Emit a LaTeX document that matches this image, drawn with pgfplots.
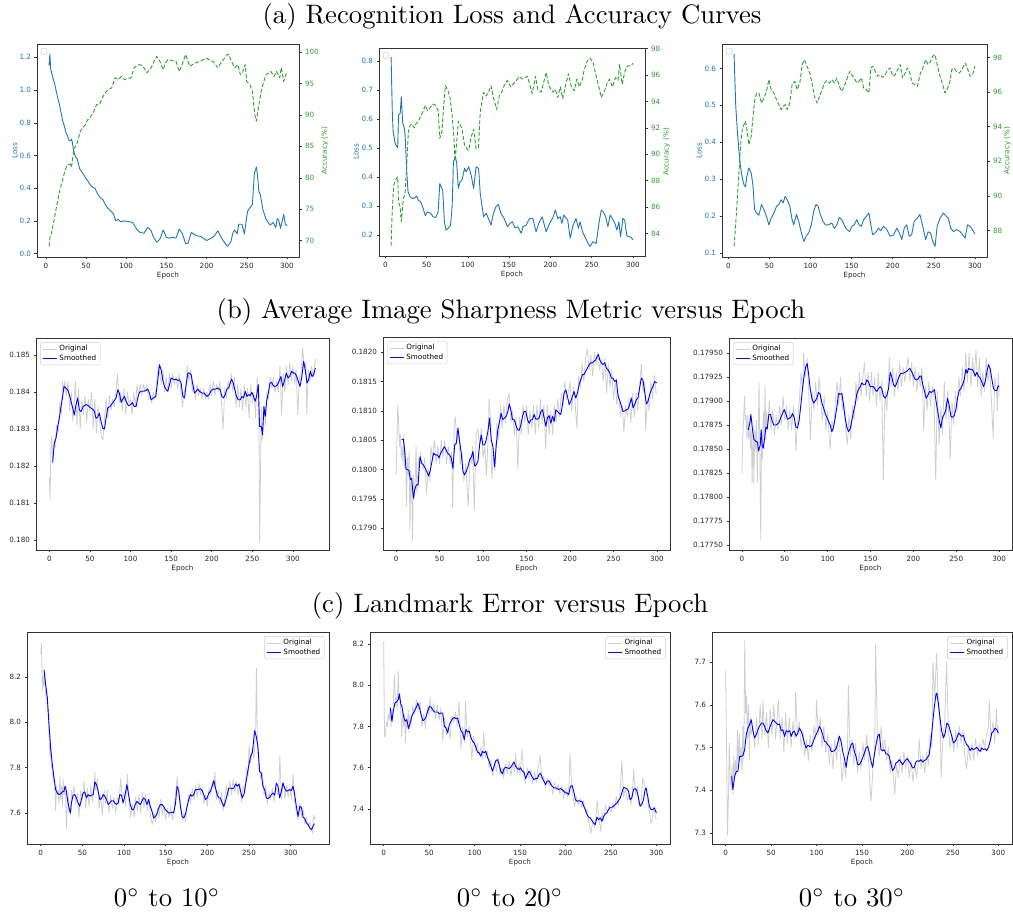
\documentclass[border=0pt]{standalone}
\usepackage{fontspec}
\usepackage{pgfplots}
\pgfplotsset{compat=1.18}
\newfontfamily\dejavu{DejaVu Sans}
\newcommand{\tickfont}{\dejavu\fontsize{7.2}{8.6}\selectfont}
\definecolor{tabblue}{HTML}{1F77B4}
\definecolor{tabgreen}{HTML}{2CA02C}
\pgfplotsset{
  panel/.style={
    scale only axis,
    axis line style={draw=black!80, line width=0.6pt},
    tick align=outside,
    major tick length=2.5pt,
    every tick/.style={draw=black!80, line width=0.5pt},
    tick label style={font=\tickfont, text=black!85},
    label style={font=\tickfont, text=black!85},
    xlabel={Epoch},
    xlabel style={font=\tickfont, text=black!85, at={(axis description cs:0.5,0)}, yshift=-18.5pt, anchor=center},
    xtick={0,50,100,150,200,250,300},
    scaled ticks=false,
    /pgf/number format/assume math mode=true,
    tick pos=left,
    every axis plot/.append style={line join=round},
  },
  lossy/.style={ylabel={Loss}, ylabel style={font=\tickfont, text=tabblue, at={(axis description cs:#1,0.5)}, anchor=center}},
  accy/.style={ylabel={Accuracy (\%)}, ylabel style={font=\tickfont, text=tabgreen, at={(axis description cs:#1,0.5)}, anchor=center}},
  orig/.style={color=black!19, line width=0.8pt},
  smline/.style={color=blue, line width=0.9pt},
  legb/.style={legend style={font=\tickfont, draw=black!20, rounded corners=1.5pt, fill=white, inner xsep=2pt, inner ysep=1pt, at={(0.015,0.98)}, anchor=north west, cells={anchor=west}, row sep=-1.5pt}, legend image code/.code={\draw[##1] (0pt,0pt) -- (14pt,0pt);}},
  legc/.style={legend style={font=\tickfont, draw=black!20, rounded corners=1.5pt, fill=white, inner xsep=2pt, inner ysep=1pt, at={(0.985,0.98)}, anchor=north east, cells={anchor=west}, row sep=-1.5pt}, legend image code/.code={\draw[##1] (0pt,0pt) -- (14pt,0pt);}},
}
\begin{document}
\begin{tikzpicture}[x=1pt,y=1pt]
\path[use as bounding box] (0,0) rectangle (1013,913);
% titles
\node[scale=2.67, transform shape, anchor=base, font=\fontsize{10}{12}\selectfont] at (512pt,889.7pt) {(a) Recognition Loss and Accuracy Curves};
\node[scale=2.67, transform shape, anchor=base, font=\fontsize{10}{12}\selectfont] at (511pt,594.5pt) {(b) Average Image Sharpness Metric versus Epoch};
\node[scale=2.67, transform shape, anchor=base, font=\fontsize{10}{12}\selectfont] at (510pt,300pt) {(c) Landmark Error versus Epoch};
\node[scale=2.67, transform shape, anchor=base, font=\fontsize{10}{12}\selectfont] at (167pt,6.3pt) {$0^\circ$ to $10^\circ$};
\node[scale=2.67, transform shape, anchor=base, font=\fontsize{10}{12}\selectfont] at (510pt,6.3pt) {$0^\circ$ to $20^\circ$};
\node[scale=2.67, transform shape, anchor=base, font=\fontsize{10}{12}\selectfont] at (852pt,6.3pt) {$0^\circ$ to $30^\circ$};

% ===== a1 =====
\begin{axis}[panel, at={(37pt,656pt)}, anchor=south west, width=262pt, height=213pt,
  xmin=-11, xmax=315, ymin=-0.0204, ymax=1.2815, ytick={0,0.2,0.4,0.6,0.8,1.0,1.2},
  yticklabel style={text=tabblue, /pgf/number format/.cd, fixed, fixed zerofill, precision=1},
  lossy=-0.085]
\addplot[tabblue, line width=0.9pt] coordinates {(4,1.15)(5,1.22)(6,1.13)(7,1.11)(9,1.07)(11,1.04)(13,0.99)(15,0.95)(17,0.91)(19,0.86)(21,0.81)(23,0.78)(25,0.74)(27,0.72)(29,0.69)(31,0.69)(32,0.70)(33,0.68)(35,0.62)(37,0.59)(39,0.58)(42,0.52)(46,0.49)(50,0.46)(54,0.43)(57,0.41)(61,0.40)(65,0.36)(68,0.34)(71,0.33)(75,0.29)(80,0.265)(84,0.245)(87,0.20)(90,0.21)(93,0.195)(98,0.20)(104,0.195)(108,0.19)(113,0.15)(117,0.13)(122,0.125)(127,0.16)(131,0.14)(134,0.10)(138,0.07)(142,0.09)(146,0.145)(150,0.10)(154,0.095)(158,0.10)(162,0.095)(166,0.15)(170,0.12)(174,0.06)(177,0.065)(181,0.13)(187,0.11)(193,0.105)(200,0.08)(206,0.095)(210,0.11)(214,0.14)(218,0.10)(222,0.07)(226,0.045)(230,0.07)(233,0.13)(235,0.145)(238,0.12)(240,0.18)(244,0.18)(247,0.12)(251,0.26)(254,0.28)(257,0.30)(259.4,0.49)(262,0.53)(264,0.45)(265,0.38)(267,0.36)(270,0.27)(274,0.21)(279,0.175)(283,0.19)(286,0.16)(288,0.215)(290,0.20)(292,0.155)(296,0.24)(298,0.18)(300,0.17)};
\node[draw=black!25, rounded corners=0.8pt, minimum size=5.7pt, inner sep=0pt, anchor=north west] at ([xshift=4pt,yshift=-4.3pt]rel axis cs:0,1) {};
\end{axis}
\begin{axis}[panel, at={(37pt,656pt)}, anchor=south west, width=262pt, height=213pt,
  xmin=-11, xmax=315, axis x line=none, axis y line*=right, ytick pos=right, xlabel={},
  ymin=67.4, ymax=101.27, ytick={70,75,80,85,90,95,100},
  yticklabel style={text=tabgreen}, accy=1.099]
\addplot[tabgreen, line width=0.9pt, dash pattern=on 4pt off 2pt] coordinates {(4,69.1)(5,70.4)(7,71.2)(9,72.5)(11,73.8)(13,75.2)(15,76.5)(17,77.8)(19,78.8)(21.5,80.0)(24,81.2)(26,81.8)(28,82.1)(30,82.2)(32,81.7)(35,84.7)(37,85.0)(39,85.5)(41,86.5)(43,87.4)(46,88.0)(49,88.4)(52,89.2)(55,89.6)(59,90.3)(63,91.6)(67,91.7)(71,92.9)(75,93.7)(79,94.1)(82,94.3)(86,95.9)(90,95.6)(94,96.1)(98,95.6)(102,95.8)(106,95.9)(110,97.5)(114,97.9)(117,98.0)(121,97.7)(126,96.7)(131,97.5)(135,98.6)(138,99.3)(142,98.5)(146,97.2)(149,98.3)(152,98.8)(158,98.6)(162,98.5)(166,96.9)(170,98.2)(174,99.6)(179,97.7)(185,98.2)(191,98.5)(196,98.8)(200,99.0)(204,98.7)(208,98.5)(214,97.5)(218,98.3)(221,98.8)(227,99.7)(231,98.5)(235,97.5)(239,98.0)(242,96.4)(245,96.8)(248,98.0)(250,95.3)(254,94.8)(257,93.7)(260,90.0)(262,89.0)(265,91.6)(268,93.8)(270,94.8)(274,96.4)(280,96.9)(284,96.1)(287,96.9)(289,96.5)(291,95.9)(293,97.5)(296,95.3)(298,96.2)(300,96.9)};
\end{axis}

% ===== a2 =====
\begin{axis}[panel, at={(379pt,657pt)}, anchor=south west, width=266pt, height=208pt,
  xmin=-7.65, xmax=314.65, ymin=0.1276, ymax=0.846, ytick={0.2,0.3,0.4,0.5,0.6,0.7,0.8},
  yticklabel style={text=tabblue, /pgf/number format/.cd, fixed, fixed zerofill, precision=1},
  lossy=-0.0865]
\addplot[tabblue, line width=0.9pt] coordinates {(7,0.815)(8.5,0.62)(9.5,0.556)(12,0.516)(15,0.501)(16,0.614)(18,0.62)(19.4,0.677)(21,0.59)(23,0.568)(24,0.545)(26,0.418)(27.5,0.35)(30,0.332)(33,0.326)(36,0.329)(38,0.335)(40,0.32)(43,0.315)(46,0.29)(48.5,0.267)(51,0.28)(55,0.275)(58,0.263)(61,0.26)(64,0.28)(66,0.378)(69.5,0.355)(71.6,0.246)(73.6,0.217)(76,0.223)(79,0.234)(81,0.298)(82.5,0.453)(85,0.47)(86.5,0.447)(88.5,0.361)(90.5,0.384)(93,0.39)(96,0.43)(98,0.418)(101,0.436)(104,0.407)(107,0.361)(110,0.436)(113,0.43)(115,0.344)(119,0.263)(122,0.275)(125,0.257)(128,0.234)(131,0.275)(134,0.298)(137,0.306)(140,0.275)(144,0.257)(148,0.229)(151,0.24)(154,0.246)(157,0.225)(160.5,0.229)(164.6,0.206)(167,0.229)(170.6,0.234)(174.7,0.257)(178.7,0.257)(182.7,0.211)(186,0.24)(190,0.263)(194.9,0.211)(199,0.24)(203,0.26)(206,0.286)(209,0.257)(212,0.263)(214,0.24)(216,0.269)(221,0.252)(224,0.189)(227,0.229)(231,0.257)(234,0.223)(236,0.246)(239,0.211)(242.6,0.189)(245,0.175)(248,0.16)(251.5,0.177)(255.5,0.171)(258.8,0.24)(261.6,0.286)(264,0.28)(267,0.263)(269.7,0.229)(272.5,0.269)(275,0.257)(277.7,0.244)(280.6,0.217)(283,0.246)(285,0.194)(287.9,0.257)(290,0.252)(292.7,0.197)(296,0.194)(298,0.191)(300,0.183)};
\node[draw=black!25, rounded corners=0.8pt, minimum size=5.7pt, inner sep=0pt, anchor=north west] at ([xshift=4pt,yshift=-4.3pt]rel axis cs:0,1) {};
\end{axis}
\begin{axis}[panel, at={(379pt,657pt)}, anchor=south west, width=266pt, height=208pt,
  xmin=-7.65, xmax=314.65, axis x line=none, axis y line*=right, ytick pos=right, xlabel={},
  ymin=82.29, ymax=98.05, ytick={84,86,88,90,92,94,96,98},
  yticklabel style={text=tabgreen}, accy=1.0816]
\addplot[tabgreen, line width=0.9pt, dash pattern=on 4pt off 2pt] coordinates {(7,83.07)(8,85.1)(10,87.6)(12,88.0)(15,88.3)(16,86.4)(18,86.0)(19.4,84.9)(21.8,86.6)(24,87.1)(25.9,89.15)(27.9,91.7)(30,92.2)(32,92.3)(35,92.0)(37,92.3)(40,92.5)(43,92.9)(46,93.3)(48.5,93.7)(51,93.3)(54,93.5)(58,93.8)(61,93.7)(64,93.3)(66,91.2)(68.5,91.7)(70.8,93.7)(72.8,95.2)(75.6,94.9)(78.4,94.3)(81,92.9)(83,91.4)(84.5,89.5)(86.5,90.9)(88.5,92.5)(91,92.2)(93,91.9)(96,90.7)(99,90.4)(101,90.3)(104,91.3)(107,91.9)(110,90.4)(112.8,90.5)(115,93.2)(119,94.7)(122,94.4)(125,94.7)(128,95.2)(131,94.3)(135,93.4)(138,94.4)(141,94.7)(144,95.2)(148,95.6)(152,95.1)(156,95.4)(159,95.6)(162.5,95.9)(165.7,95.7)(169,95.8)(172,95.9)(175,95.3)(177.9,94.6)(182,95.9)(184.7,94.9)(188.8,94.7)(195,96.2)(198,95.2)(203,94.7)(206,94.9)(209,94.3)(212,95.1)(215,94.2)(218.3,95.2)(222,96.1)(225,95.2)(229,94.8)(232,95.7)(235,95.1)(238.5,95.6)(241,96.4)(245,97.1)(248,97.3)(252,96.9)(255.5,95.9)(258.8,95.1)(261.6,94.3)(265.6,94.8)(268.8,95.4)(271.7,95.7)(275,95.1)(279,95.8)(282,95.6)(283.8,96.8)(287,95.3)(290,96.2)(292,96.6)(295,96.7)(298,96.7)(300,96.9)};
\end{axis}

% ===== a3 =====
\begin{axis}[panel, at={(722pt,656pt)}, anchor=south west, width=265pt, height=213pt,
  xmin=-7.65, xmax=314.65, ymin=0.090, ymax=0.666, ytick={0.1,0.2,0.3,0.4,0.5,0.6},
  yticklabel style={text=tabblue, /pgf/number format/.cd, fixed, fixed zerofill, precision=1},
  lossy=-0.087]
\addplot[tabblue, line width=0.9pt] coordinates {(7,0.639)(9,0.502)(11,0.430)(13,0.376)(15,0.331)(17,0.304)(19,0.286)(21,0.279)(22.2,0.304)(25,0.331)(27.9,0.317)(29.9,0.286)(32,0.218)(34.4,0.209)(37.2,0.203)(40.4,0.232)(43.3,0.218)(46.5,0.2)(49.3,0.177)(52.2,0.195)(55.4,0.209)(58.6,0.227)(61.5,0.232)(64.3,0.245)(66.7,0.236)(69.1,0.254)(71.6,0.245)(74.8,0.227)(77.6,0.191)(79.6,0.177)(82.9,0.205)(85.7,0.186)(88.5,0.159)(91.8,0.132)(94.6,0.146)(97.8,0.155)(101,0.177)(103.9,0.214)(106.7,0.232)(109.2,0.227)(112,0.205)(115.2,0.186)(118,0.177)(122,0.177)(126,0.182)(129,0.167)(132,0.177)(135,0.197)(138,0.191)(141,0.177)(144,0.164)(147.6,0.159)(150.4,0.173)(153,0.177)(156.5,0.191)(159,0.177)(161.7,0.173)(164.6,0.191)(168,0.2)(171,0.209)(173.4,0.177)(175.5,0.150)(178.7,0.155)(182.7,0.168)(185.6,0.161)(188.8,0.173)(192.9,0.164)(197,0.146)(201,0.150)(205,0.168)(208,0.155)(211,0.137)(214,0.168)(217,0.177)(220,0.146)(223,0.150)(226,0.186)(230,0.195)(233,0.205)(236.5,0.173)(240,0.137)(243,0.158)(246,0.155)(248.6,0.132)(251.5,0.119)(254,0.173)(257.5,0.195)(261.6,0.209)(265,0.2)(267.7,0.195)(270.5,0.168)(273.7,0.159)(277.7,0.164)(281.8,0.159)(285,0.150)(288,0.141)(291,0.177)(294,0.173)(297,0.164)(300,0.152)};
\node[draw=black!25, rounded corners=0.8pt, minimum size=5.7pt, inner sep=0pt, anchor=north west] at ([xshift=4pt,yshift=-4.3pt]rel axis cs:0,1) {};
\end{axis}
\begin{axis}[panel, at={(722pt,656pt)}, anchor=south west, width=265pt, height=213pt,
  xmin=-7.65, xmax=314.65, axis x line=none, axis y line*=right, ytick pos=right, xlabel={},
  ymin=86.46, ymax=98.79, ytick={88,90,92,94,96,98},
  yticklabel style={text=tabgreen}, accy=1.077]
\addplot[tabgreen, line width=0.9pt, dash pattern=on 4pt off 2pt] coordinates {(7,87.07)(9,88.33)(11,89.87)(13,91.4)(15,92.96)(17,93.83)(19,94.12)(21,94.31)(23,93.73)(25,92.96)(27.9,93.44)(29.9,94.5)(32,95.47)(34.4,95.95)(37.2,95.95)(40.4,95.37)(43.3,95.66)(46.5,96.05)(49.3,96.73)(52.2,96.15)(55.4,95.95)(58.6,95.57)(61.5,95.28)(64.3,94.99)(66.7,95.18)(69.1,95.28)(71.6,94.99)(74.8,95.37)(77.6,96.44)(80.9,96.63)(83.7,96.15)(87,96.53)(89.8,97.6)(92.6,97.88)(95.8,97.5)(99,97.11)(101.9,96.53)(104.7,95.76)(108,95.37)(111,95.76)(114,96.15)(117,96.53)(120,96.67)(123,96.53)(126,96.73)(129,96.53)(132,96.82)(135,96.34)(138,96.05)(141,96.34)(144,96.73)(147.6,97.2)(150.4,97.0)(153,96.82)(156.5,96.53)(159,96.63)(161.7,96.82)(164.6,96.24)(168,96.15)(171,95.95)(173.4,97.4)(175.8,97.5)(178.7,97.2)(181.5,96.92)(184.8,97.0)(188,96.86)(190.8,97.0)(193.6,97.3)(197,97.4)(200,96.92)(203,97.0)(205.8,97.3)(209,97.6)(212,96.82)(215,97.1)(218,97.4)(221,97.1)(223.6,96.53)(227,96.44)(230,96.34)(233,97.0)(236.5,97.4)(240,97.88)(243,97.6)(246,97.79)(248.6,98.08)(251.5,98.17)(254,97.6)(257.5,96.92)(260.8,96.44)(263.6,95.95)(266.8,96.24)(269.7,96.63)(271.7,97.3)(274.5,97.4)(277.7,97.2)(281,97.11)(284,97.3)(288,97.69)(290.7,97.4)(294,96.92)(297,97.0)(300,97.5)};
\end{axis}

% ===== b1 =====
\begin{axis}[panel, legb, at={(36pt,363pt)}, anchor=south west, width=293pt, height=212pt,
  xmin=-16.4, xmax=344.4, ymin=0.17973, ymax=0.18546, ytick={0.180,0.181,0.182,0.183,0.184,0.185},
  yticklabel style={/pgf/number format/.cd, fixed, fixed zerofill, precision=3}]
\addplot[orig] coordinates {(0,0.18170)(1,0.18110)(2,0.18260)(3,0.18280)(4,0.18220)(6,0.18270)(7,0.18250)(9,0.18310)(11,0.18290)(13,0.18370)(15,0.18340)(16,0.18430)(18,0.18400)(19,0.18430)(21,0.18390)(23,0.18430)(25,0.18350)(27,0.18400)(29,0.18320)(31,0.18380)(32,0.18430)(34,0.18310)(36,0.18410)(38,0.18300)(40,0.18380)(42,0.18340)(44,0.18390)(46,0.18320)(48,0.18380)(50,0.18350)(52,0.18400)(54,0.18300)(56,0.18380)(58,0.18290)(60,0.18360)(62,0.18320)(64,0.18280)(66,0.18270)(68,0.18330)(70,0.18380)(72,0.18330)(74,0.18390)(76,0.18350)(78,0.18380)(80,0.18360)(82,0.18400)(84,0.18450)(86,0.18370)(88,0.18400)(90,0.18350)(92,0.18410)(94,0.18340)(96,0.18400)(98,0.18370)(100,0.18380)(102,0.18340)(104,0.18400)(106,0.18360)(108,0.18420)(110,0.18390)(112,0.18420)(114,0.18390)(116,0.18420)(118,0.18400)(120,0.18420)(122,0.18380)(124,0.18390)(126,0.18370)(128,0.18400)(130,0.18380)(132,0.18420)(134,0.18470)(136,0.18450)(138,0.18420)(140,0.18460)(142,0.18400)(144,0.18440)(146,0.18400)(148,0.18450)(150,0.18410)(152,0.18450)(154,0.18420)(156,0.18440)(158,0.18410)(160,0.18450)(162,0.18400)(164,0.18360)(166,0.18400)(168,0.18410)(170,0.18470)(172,0.18430)(174,0.18460)(176,0.18400)(178,0.18420)(180,0.18380)(182,0.18420)(184,0.18390)(186,0.18410)(188,0.18380)(190,0.18410)(192,0.18380)(194,0.18400)(196,0.18380)(198,0.18420)(200,0.18390)(202,0.18430)(204,0.18390)(206,0.18420)(208,0.18400)(210,0.18430)(212,0.18370)(214,0.18300)(216,0.18410)(218,0.18380)(220,0.18430)(222,0.18410)(224,0.18450)(226,0.18400)(228,0.18440)(230,0.18360)(232,0.18420)(234,0.18360)(236,0.18410)(238,0.18350)(240,0.18420)(242,0.18360)(244,0.18410)(246,0.18330)(248,0.18420)(250,0.18370)(252,0.18400)(254,0.18330)(256,0.18440)(258,0.18380)(259,0.17995)(261,0.18360)(262,0.18270)(264,0.18360)(266,0.18310)(268,0.18400)(270,0.18380)(272,0.18440)(274,0.18410)(276,0.18440)(278,0.18400)(280,0.18430)(282,0.18400)(284,0.18470)(286,0.18340)(288,0.18450)(290,0.18400)(292,0.18470)(294,0.18420)(296,0.18480)(298,0.18430)(300,0.18470)(302,0.18420)(304,0.18460)(306,0.18340)(308,0.18440)(310,0.18450)(312,0.18520)(314,0.18460)(316,0.18480)(317,0.18340)(319,0.18460)(321,0.18430)(323,0.18470)(325,0.18440)(327,0.18480)(328,0.18490)};
\addlegendentry{Original}
\addplot[smline] coordinates {(4.1,0.18209)(6.2,0.18262)(8.2,0.18275)(10.3,0.18307)(12.3,0.18329)(14.4,0.18361)(16.4,0.18388)(18.1,0.18415)(20.1,0.18411)(22.6,0.18406)(24.7,0.18393)(26.7,0.18375)(28.8,0.18357)(30.8,0.18338)(32.9,0.18366)(34.9,0.18384)(37,0.18352)(39,0.18347)(41.9,0.18361)(45.2,0.18366)(48.1,0.18363)(51,0.18357)(53.4,0.18354)(55.5,0.18347)(57.5,0.18329)(59.6,0.18332)(61.7,0.18343)(63.7,0.18320)(65.8,0.18302)(67.8,0.18300)(69.9,0.18329)(71.9,0.18357)(74.8,0.18361)(77.7,0.18370)(80.1,0.18377)(82.2,0.18384)(84.3,0.18406)(86.3,0.18397)(88.4,0.18372)(90.4,0.18381)(92.5,0.18388)(94.5,0.18375)(97.4,0.18363)(100.3,0.18366)(102.3,0.18372)(104.4,0.18361)(106.9,0.18361)(108.9,0.18384)(111,0.18399)(113,0.18402)(115.9,0.18402)(118.8,0.18404)(121.2,0.18408)(123.3,0.18397)(125.4,0.18379)(128.2,0.18384)(131.1,0.18388)(133.6,0.18433)(135.6,0.18474)(137.7,0.18460)(139.7,0.18433)(141.8,0.18415)(143.9,0.18406)(145.9,0.18402)(148,0.18420)(150,0.18438)(152.1,0.18435)(154.1,0.18433)(156.2,0.18435)(158.2,0.18431)(160.3,0.18433)(162.3,0.18424)(164.4,0.18388)(166.5,0.18384)(168.5,0.18420)(170.6,0.18451)(172.6,0.18451)(174.7,0.18447)(176.7,0.18420)(178.8,0.18397)(180.8,0.18402)(182.9,0.18408)(185,0.18402)(187.8,0.18397)(190.7,0.18397)(194,0.18388)(196.9,0.18393)(199.3,0.18404)(202.2,0.18408)(205.1,0.18408)(207.6,0.18411)(210.4,0.18406)(212.5,0.18388)(214.5,0.18384)(216.6,0.18393)(218.7,0.18408)(220.7,0.18411)(222.8,0.18424)(224.4,0.18435)(226.5,0.18424)(228.5,0.18406)(230.6,0.18388)(232.6,0.18379)(235.1,0.18379)(237.2,0.18388)(239.2,0.18384)(241.3,0.18402)(243.3,0.18388)(245.4,0.18393)(247.4,0.18390)(249.5,0.18399)(251.5,0.18388)(253.6,0.18375)(255.6,0.18393)(257.3,0.18420)(258.9,0.18307)(261,0.18307)(262.6,0.18284)(264.3,0.18361)(265.9,0.18334)(267.6,0.18375)(269.6,0.18397)(271.7,0.18424)(273.7,0.18426)(275.8,0.18417)(277.8,0.18415)(280.3,0.18417)(282.8,0.18429)(285.2,0.18442)(287.3,0.18415)(289.4,0.18429)(291.8,0.18451)(293.9,0.18438)(295.9,0.18442)(298.4,0.18456)(300.4,0.18451)(302.5,0.18451)(304.6,0.18442)(306.6,0.18429)(308.7,0.18415)(310.7,0.18438)(313.2,0.18483)(315.2,0.18460)(317.3,0.18424)(319.3,0.18433)(321.4,0.18456)(323.5,0.18442)(325.5,0.18447)(327.6,0.18465)};
\addlegendentry{Smoothed}
\end{axis}

% ===== b2 =====
\begin{axis}[panel, legb, at={(383pt,363pt)}, anchor=south west, width=287pt, height=213pt,
  xmin=-15, xmax=315, ymin=0.17863, ymax=0.18226, ytick={0.1790,0.1795,0.1800,0.1805,0.1810,0.1815,0.1820},
  yticklabel style={/pgf/number format/.cd, fixed, fixed zerofill, precision=4}]
\addplot[orig] coordinates {(0,0.17990)(1,0.18050)(2,0.18110)(3,0.18080)(4,0.18040)(5,0.18060)(6,0.18020)(7,0.18040)(8,0.18010)(9,0.18060)(10,0.18000)(11,0.18030)(12,0.17938)(13,0.18020)(14,0.17990)(15,0.18030)(16,0.17897)(17,0.18000)(18,0.17960)(19,0.17878)(20,0.17990)(21,0.17950)(22,0.17980)(23,0.18040)(24,0.17960)(26,0.18020)(27,0.18000)(28,0.18030)(29,0.18010)(31,0.18000)(33,0.18020)(35,0.17960)(37,0.18000)(39,0.17980)(40,0.18040)(42,0.18020)(44,0.18050)(46,0.18010)(48,0.18040)(50,0.18010)(52,0.18050)(54,0.18020)(56,0.18050)(58,0.18010)(60,0.18040)(62,0.18010)(64,0.18030)(65,0.17935)(67,0.18080)(68,0.18090)(70,0.18050)(72,0.18060)(74,0.18010)(76,0.18030)(78,0.17980)(80,0.18010)(82,0.17960)(83,0.17938)(85,0.18020)(87,0.18010)(88,0.18040)(90,0.17930)(92,0.18060)(94,0.18070)(96,0.18040)(98,0.18070)(100,0.18020)(102,0.18040)(104,0.17990)(106,0.18060)(107,0.18120)(109,0.18080)(110,0.17985)(112,0.18020)(114,0.18000)(116,0.18080)(118,0.18050)(120,0.18110)(122,0.18070)(124,0.18110)(126,0.18080)(128,0.18120)(130,0.18130)(132,0.18080)(134,0.18100)(136,0.18060)(138,0.18090)(140,0.18000)(142,0.18090)(144,0.18060)(146,0.18110)(148,0.18080)(150,0.18110)(152,0.18060)(154,0.18100)(156,0.18070)(158,0.18110)(160,0.18060)(162,0.18110)(164,0.18070)(166,0.18120)(168,0.18080)(170,0.18110)(172,0.18035)(174,0.18110)(176,0.18060)(178,0.18100)(180,0.18060)(182,0.18110)(184,0.18080)(186,0.18120)(188,0.18090)(190,0.18130)(192,0.18110)(194,0.18150)(196,0.18120)(198,0.18130)(200,0.18150)(202,0.18100)(204,0.18140)(206,0.18110)(208,0.18070)(210,0.18160)(212,0.18140)(214,0.18180)(216,0.18150)(218,0.18190)(220,0.18205)(222,0.18170)(224,0.18195)(226,0.18160)(228,0.18200)(230,0.18180)(232,0.18200)(234,0.18170)(236,0.18190)(238,0.18150)(240,0.18190)(242,0.18130)(244,0.18180)(246,0.18140)(248,0.18170)(250,0.18120)(252,0.18150)(254,0.18110)(256,0.18130)(258,0.18090)(260,0.18110)(262,0.18065)(264,0.18110)(266,0.18090)(268,0.18120)(270,0.18080)(272,0.18130)(274,0.18090)(276,0.18130)(278,0.18100)(280,0.18140)(282,0.18180)(284,0.18130)(286,0.18150)(287,0.18068)(289,0.18120)(291,0.18100)(293,0.18150)(295,0.18120)(297,0.18160)(299,0.18130)(300,0.18130)};
\addlegendentry{Original}
\addplot[smline] coordinates {(6.5,0.18051)(8.4,0.18052)(9.6,0.18037)(11.5,0.18001)(13.4,0.18000)(14.9,0.17998)(16.5,0.17983)(18,0.17985)(19.9,0.17951)(21.4,0.17965)(23.3,0.17974)(25.3,0.17974)(27.6,0.18022)(29.5,0.18011)(31.4,0.18008)(33.7,0.18002)(36,0.17994)(37.5,0.17989)(39.4,0.17999)(41.3,0.18014)(43.2,0.18028)(45.2,0.18025)(47.5,0.18025)(49.4,0.18020)(51.3,0.18028)(53.6,0.18034)(55.5,0.18039)(57.4,0.18034)(59.3,0.18028)(61.6,0.18025)(63.5,0.18020)(65.4,0.18002)(67.4,0.18042)(69.3,0.18045)(71.2,0.18071)(73.1,0.18048)(75,0.18028)(76.9,0.17997)(78.8,0.17991)(80.7,0.17997)(82.7,0.18005)(84.6,0.18017)(86.5,0.18021)(88.4,0.18031)(90.3,0.18006)(92.2,0.18008)(94.1,0.18014)(96.1,0.18042)(98,0.18059)(99.9,0.18042)(101.8,0.18042)(103.7,0.18051)(105.6,0.18065)(107.5,0.18088)(109.5,0.18051)(111.4,0.18039)(113.3,0.18005)(115.2,0.18042)(117.1,0.18068)(119,0.18082)(120.9,0.18096)(122.8,0.18085)(124.8,0.18088)(126.7,0.18091)(128.6,0.18099)(130.1,0.18112)(132,0.18102)(133.9,0.18085)(135.9,0.18085)(137.8,0.18076)(139.7,0.18068)(141.6,0.18067)(143.5,0.18076)(145.4,0.18091)(147.3,0.18099)(149.3,0.18099)(151.2,0.18085)(153.1,0.18079)(155,0.18085)(156.9,0.18085)(158.8,0.18094)(160.7,0.18086)(162.6,0.18086)(164.6,0.18088)(166.5,0.18099)(168.4,0.18102)(170.3,0.18088)(172.2,0.18074)(174.1,0.18088)(176,0.18092)(178,0.18079)(179.9,0.18091)(181.8,0.18082)(183.7,0.18102)(185.6,0.18099)(187.5,0.18096)(189.4,0.18094)(191.4,0.18111)(193.3,0.18131)(195.2,0.18136)(197.1,0.18125)(199,0.18111)(200.9,0.18116)(202.8,0.18125)(204.7,0.18133)(206.7,0.18122)(208.6,0.18131)(210.5,0.18145)(212.4,0.18153)(214.3,0.18162)(216.2,0.18162)(218.1,0.18168)(220.1,0.18173)(222,0.18179)(223.9,0.18182)(225.8,0.18182)(227.7,0.18185)(229.6,0.18187)(231.5,0.18194)(232.7,0.18196)(234.2,0.18187)(236.1,0.18182)(238,0.18179)(240,0.18182)(241.9,0.18173)(243.8,0.18170)(245.7,0.18165)(247.6,0.18156)(249.5,0.18156)(251.4,0.18150)(253.3,0.18153)(255.3,0.18125)(257.2,0.18118)(259.1,0.18108)(261,0.18099)(262.9,0.18100)(264.8,0.18102)(266.7,0.18103)(268.7,0.18111)(270.6,0.18122)(272.5,0.18105)(274.4,0.18111)(276.3,0.18119)(278.2,0.18122)(280.1,0.18139)(282,0.18156)(284,0.18152)(285.9,0.18133)(287.8,0.18112)(289.7,0.18116)(291.6,0.18128)(293.5,0.18136)(295.4,0.18142)(297.4,0.18150)(299.3,0.18148)(300,0.18148)};
\addlegendentry{Smoothed}
\end{axis}

% ===== b3 =====
\begin{axis}[panel, legb, at={(729pt,363pt)}, anchor=south west, width=283pt, height=212pt,
  xmin=-15, xmax=315, ymin=0.177448, ymax=0.179657, ytick={0.1775,0.17775,0.178,0.17825,0.1785,0.17875,0.179,0.17925,0.1795},
  yticklabel style={/pgf/number format/.cd, fixed, fixed zerofill, precision=5}]
\addplot[orig] coordinates {(0,0.17825)(1,0.17860)(2,0.17880)(3,0.17905)(4,0.17880)(5,0.17885)(6,0.17860)(7,0.17885)(8,0.17860)(9,0.17880)(10,0.17850)(11,0.17870)(12,0.17815)(13,0.17880)(14,0.17815)(15,0.17870)(16,0.17850)(17,0.17880)(18,0.17815)(19,0.17860)(20,0.17919)(21,0.17850)(22,0.17755)(23,0.17870)(24,0.17840)(25,0.17890)(26,0.17850)(27,0.17917)(28,0.17860)(29,0.17890)(30,0.17870)(32,0.17900)(34,0.17870)(36,0.17890)(38,0.17865)(40,0.17885)(42,0.17870)(44,0.17895)(46,0.17875)(48,0.17905)(50,0.17880)(52,0.17895)(54,0.17870)(56,0.17890)(58,0.17870)(60,0.17895)(62,0.17875)(63,0.17848)(65,0.17880)(67,0.17900)(69,0.17930)(71,0.17910)(72,0.17950)(74,0.17925)(76,0.17945)(78,0.17910)(80,0.17860)(82,0.17910)(84,0.17890)(86,0.17920)(88,0.17895)(90,0.17925)(92,0.17900)(94,0.17880)(96,0.17905)(98,0.17870)(100,0.17890)(102,0.17860)(103,0.17850)(105,0.17880)(107,0.17870)(109,0.17900)(111,0.17920)(113,0.17895)(115,0.17925)(117,0.17890)(119,0.17900)(121,0.17870)(123,0.17855)(125,0.17885)(127,0.17860)(129,0.17895)(131,0.17880)(133,0.17920)(135,0.17900)(137,0.17930)(139,0.17905)(141,0.17925)(143,0.17940)(145,0.17905)(147,0.17930)(149,0.17900)(151,0.17930)(153,0.17905)(155,0.17925)(157,0.17895)(159,0.17930)(161,0.17900)(163,0.17920)(165,0.17818)(167,0.17910)(169,0.17890)(171,0.17925)(172,0.17945)(174,0.17915)(176,0.17935)(178,0.17905)(180,0.17930)(182,0.17910)(184,0.17940)(186,0.17915)(188,0.17935)(190,0.17920)(192,0.17935)(194,0.17945)(196,0.17920)(198,0.17940)(200,0.17915)(202,0.17935)(204,0.17910)(206,0.17930)(208,0.17915)(210,0.17935)(212,0.17870)(214,0.17915)(216,0.17890)(218,0.17920)(220,0.17895)(222,0.17915)(224,0.17905)(226,0.17818)(228,0.17910)(230,0.17855)(232,0.17895)(234,0.17865)(236,0.17920)(238,0.17880)(240,0.17910)(242,0.17870)(243,0.17840)(245,0.17900)(247,0.17875)(249,0.17910)(251,0.17890)(253,0.17925)(255,0.17905)(257,0.17935)(259,0.17910)(261,0.17950)(263,0.17920)(265,0.17950)(267,0.17915)(269,0.17945)(271,0.17925)(273,0.17953)(275,0.17915)(277,0.17945)(279,0.17905)(281,0.17930)(283,0.17910)(285,0.17945)(287,0.17920)(289,0.17935)(291,0.17900)(293,0.17862)(295,0.17925)(297,0.17910)(298,0.17890)(299,0.17930)(300,0.17905)};
\addlegendentry{Original}
\addplot[smline] coordinates {(7.4,0.17870)(9.3,0.17877)(10.5,0.17886)(12.4,0.17870)(14,0.17860)(16.3,0.17858)(18.3,0.17857)(19.4,0.17848)(21.4,0.17854)(22.5,0.17870)(23.7,0.17853)(24.9,0.17851)(26.8,0.17863)(28,0.17873)(29.5,0.17871)(31.5,0.17886)(33.4,0.17886)(35.4,0.17879)(37.3,0.17875)(39.6,0.17875)(41.6,0.17876)(43.5,0.17878)(45.5,0.17883)(47.4,0.17887)(49.4,0.17891)(51.3,0.17887)(53.2,0.17881)(55.2,0.17882)(57.1,0.17883)(59.1,0.17887)(61,0.17883)(63,0.17873)(64.9,0.17872)(66.8,0.17880)(68.8,0.17896)(70.7,0.17913)(72.7,0.17927)(74.6,0.17936)(76.2,0.17939)(77.7,0.17929)(79.7,0.17913)(81.6,0.17903)(83.6,0.17898)(85.5,0.17900)(87.4,0.17903)(89.4,0.17909)(91.3,0.17907)(93.3,0.17898)(95.2,0.17893)(97.2,0.17887)(99.1,0.17883)(101,0.17879)(103,0.17875)(104.9,0.17868)(106.9,0.17873)(108.8,0.17882)(110.8,0.17894)(112.7,0.17908)(114.7,0.17907)(116.6,0.17908)(118.5,0.17896)(120.5,0.17882)(122.4,0.17873)(124.4,0.17868)(126.3,0.17871)(128.3,0.17880)(130.2,0.17889)(132.1,0.17896)(134.1,0.17908)(136,0.17912)(138,0.17915)(139.9,0.17919)(141.9,0.17917)(143.8,0.17917)(145.7,0.17922)(147.7,0.17920)(149.6,0.17915)(151.6,0.17915)(153.5,0.17915)(155.5,0.17912)(157.4,0.17910)(159.3,0.17913)(161.3,0.17915)(163.2,0.17913)(165.2,0.17905)(167.1,0.17903)(169.1,0.17906)(171,0.17913)(173,0.17930)(174.9,0.17925)(176.8,0.17917)(178.8,0.17915)(180.7,0.17919)(182.7,0.17924)(184.6,0.17928)(186.6,0.17929)(188.5,0.17929)(190.4,0.17930)(192.4,0.17931)(194.3,0.17933)(195.9,0.17934)(197.8,0.17931)(199.8,0.17927)(201.7,0.17923)(203.7,0.17922)(205.6,0.17923)(207.5,0.17926)(209.1,0.17926)(211,0.17917)(213,0.17910)(214.9,0.17903)(216.9,0.17906)(218.8,0.17910)(220.8,0.17909)(222.7,0.17910)(224.6,0.17912)(226.2,0.17901)(228.1,0.17891)(230.1,0.17880)(232,0.17872)(234,0.17883)(235.9,0.17886)(237.9,0.17891)(239.8,0.17903)(241.7,0.17896)(243.7,0.17884)(245.6,0.17883)(247.6,0.17885)(249.5,0.17891)(251.5,0.17903)(253.4,0.17911)(255.3,0.17913)(257.3,0.17917)(259.2,0.17922)(261.2,0.17933)(262.7,0.17929)(264.3,0.17934)(266.2,0.17933)(268.2,0.17933)(270.1,0.17931)(272.1,0.17926)(274,0.17930)(275.9,0.17926)(277.9,0.17924)(279.8,0.17920)(281.8,0.17915)(283.7,0.17920)(285.6,0.17930)(287.6,0.17938)(289.5,0.17934)(291.5,0.17923)(293.4,0.17913)(295.4,0.17911)(297.3,0.17911)(298.9,0.17916)(300,0.17915)};
\addlegendentry{Smoothed}
\end{axis}

% ===== c1 =====
\begin{axis}[panel, legc, at={(27pt,69pt)}, anchor=south west, width=302pt, height=212pt,
  xmin=-16.4, xmax=346, ymin=7.463, ymax=8.3985, ytick={7.6,7.8,8.0,8.2},
  yticklabel style={/pgf/number format/.cd, fixed, fixed zerofill, precision=1}]
\addplot[orig] coordinates {(0,8.30)(1,8.35)(2,8.14)(3,8.21)(4,8.16)(5,8.22)(6,8.12)(7,8.15)(8,8.05)(9,8.06)(10,7.95)(11,7.85)(12,7.90)(13,7.80)(14,7.82)(15,7.74)(16,7.77)(17,7.71)(18,7.61)(19,7.72)(20,7.68)(21,7.70)(22,7.64)(23,7.76)(24,7.66)(25,7.72)(26,7.63)(27,7.75)(28,7.68)(29,7.72)(30,7.66)(31,7.53)(32,7.64)(33,7.69)(34,7.60)(35,7.62)(36,7.59)(37,7.70)(38,7.66)(40,7.72)(42,7.64)(44,7.69)(46,7.58)(48,7.70)(50,7.66)(52,7.74)(54,7.62)(56,7.71)(58,7.63)(60,7.72)(62,7.65)(64,7.70)(65,7.78)(66,7.70)(68,7.75)(70,7.62)(72,7.68)(74,7.59)(76,7.70)(78,7.64)(80,7.70)(82,7.60)(84,7.68)(86,7.62)(88,7.67)(90,7.60)(92,7.67)(94,7.64)(96,7.75)(98,7.66)(100,7.69)(102,7.63)(104,7.77)(106,7.66)(108,7.58)(110,7.64)(112,7.58)(114,7.67)(116,7.61)(118,7.68)(120,7.60)(122,7.69)(124,7.62)(126,7.68)(128,7.61)(130,7.66)(132,7.58)(134,7.55)(136,7.60)(138,7.56)(140,7.62)(142,7.58)(144,7.66)(146,7.59)(148,7.63)(150,7.57)(152,7.62)(154,7.58)(156,7.63)(158,7.57)(160,7.62)(162,7.69)(164,7.76)(166,7.68)(168,7.64)(170,7.57)(172,7.60)(174,7.56)(176,7.65)(178,7.68)(180,7.64)(182,7.71)(184,7.66)(186,7.72)(188,7.67)(190,7.73)(192,7.68)(194,7.71)(196,7.64)(198,7.68)(200,7.63)(202,7.71)(204,7.68)(206,7.74)(208,7.71)(209,7.78)(211,7.66)(213,7.70)(215,7.64)(217,7.69)(219,7.61)(221,7.67)(223,7.72)(225,7.67)(227,7.74)(229,7.68)(231,7.75)(233,7.69)(235,7.74)(237,7.68)(239,7.73)(241,7.65)(243,7.72)(245,7.69)(247,7.80)(249,7.76)(250,7.90)(252,7.82)(254,7.88)(256,7.84)(258,7.98)(259,8.24)(260,7.92)(262,7.80)(264,7.75)(266,7.78)(268,7.68)(270,7.72)(272,7.64)(274,7.69)(276,7.66)(278,7.71)(280,7.65)(282,7.72)(284,7.68)(286,7.73)(287,7.85)(289,7.66)(291,7.74)(293,7.66)(295,7.72)(297,7.67)(299,7.71)(301,7.66)(303,7.77)(305,7.64)(307,7.60)(309,7.57)(311,7.64)(313,7.58)(315,7.62)(317,7.55)(319,7.58)(321,7.54)(323,7.56)(325,7.53)(326,7.51)(327,7.57)(328,7.59)(329,7.57)};
\addlegendentry{Original}
\addplot[smline] coordinates {(4,8.232)(6,8.166)(8,8.107)(10,7.99)(12,7.887)(14,7.813)(16,7.754)(18,7.703)(20,7.688)(22,7.681)(24,7.684)(26,7.693)(28,7.696)(29.3,7.718)(30.5,7.703)(32.5,7.651)(34.5,7.615)(35.7,7.6)(36.9,7.644)(38.9,7.678)(40.9,7.681)(42.9,7.666)(44.9,7.644)(46.9,7.629)(48.9,7.659)(50.9,7.688)(52.9,7.693)(55,7.666)(57,7.681)(59,7.674)(61,7.678)(63,7.681)(65,7.737)(67,7.725)(69,7.696)(71,7.659)(73,7.663)(75,7.681)(77,7.674)(79,7.659)(81,7.637)(83,7.644)(85,7.654)(87,7.654)(89,7.644)(91,7.637)(93,7.644)(95,7.681)(97,7.678)(99,7.644)(101,7.674)(103.5,7.725)(105.5,7.681)(107.5,7.637)(109.5,7.615)(111.5,7.615)(113.5,7.637)(115.5,7.651)(117.5,7.644)(119.5,7.637)(121.5,7.651)(123.5,7.666)(125.5,7.659)(127.5,7.637)(129.5,7.659)(131.6,7.629)(133.6,7.607)(135.6,7.578)(137.6,7.585)(139.6,7.596)(141.6,7.622)(143.6,7.637)(145.6,7.637)(147.6,7.629)(149.6,7.615)(151.6,7.607)(153.6,7.6)(155.6,7.6)(157.6,7.604)(159.6,7.6)(161.7,7.640)(163.7,7.718)(165.7,7.696)(167.7,7.629)(169.7,7.585)(171.7,7.578)(173.7,7.593)(175.7,7.629)(177.7,7.659)(179.7,7.681)(181.7,7.674)(183.7,7.681)(185.7,7.703)(187.7,7.703)(189.7,7.703)(191.7,7.707)(193.7,7.699)(195.7,7.681)(197.8,7.659)(199.8,7.666)(201.8,7.688)(203.8,7.696)(205.8,7.718)(207.8,7.743)(209.8,7.710)(211.8,7.681)(213.8,7.666)(215.8,7.666)(217.8,7.644)(219.8,7.629)(221.8,7.651)(223.8,7.681)(225.8,7.710)(227.8,7.710)(229.8,7.707)(231.8,7.710)(233.8,7.728)(235.9,7.718)(237.9,7.728)(239.9,7.696)(241.9,7.666)(243.9,7.681)(245.9,7.725)(247.9,7.769)(249.9,7.813)(251.9,7.85)(253.9,7.865)(255.1,7.901)(256.7,7.963)(258.7,7.938)(260.7,7.894)(262.7,7.784)(264.7,7.776)(266.7,7.718)(268.8,7.703)(270.8,7.666)(272.8,7.663)(274.8,7.669)(276.8,7.681)(278.8,7.688)(280.8,7.678)(282.8,7.732)(284.8,7.718)(286.8,7.666)(288.8,7.696)(290.8,7.732)(292.8,7.710)(294.8,7.696)(296.8,7.699)(298.8,7.703)(300.8,7.699)(302.8,7.718)(304.8,7.681)(306.8,7.629)(308.9,7.585)(310.9,7.629)(312.9,7.625)(314.9,7.581)(316.9,7.575)(318.9,7.556)(320.9,7.549)(322.9,7.534)(324.9,7.526)(326.9,7.541)(328.5,7.553)};
\addlegendentry{Smoothed}
\end{axis}

% ===== c2 =====
\begin{axis}[panel, legc, at={(370pt,69pt)}, anchor=south west, width=300pt, height=212pt,
  xmin=-15, xmax=315, ymin=7.230, ymax=8.258, ytick={7.4,7.6,7.8,8.0,8.2},
  yticklabel style={/pgf/number format/.cd, fixed, fixed zerofill, precision=1}]
\addplot[orig] coordinates {(0,8.21)(1,7.75)(2,7.76)(3,7.82)(4,7.80)(5,7.86)(6,7.83)(7,7.89)(8,7.80)(9,7.88)(10,7.82)(11,7.95)(12,8.05)(13,7.90)(14,7.94)(15,7.88)(16,8.07)(17,7.93)(18,7.96)(19,7.86)(20,7.75)(21,7.88)(22,7.80)(23,7.86)(24,7.72)(25,7.84)(26,7.79)(27,7.88)(28,7.77)(29,7.86)(30,7.80)(32,7.90)(34,7.86)(36,7.93)(38,7.88)(40,7.92)(42,7.80)(44,7.86)(46,7.79)(48,7.90)(50,7.85)(51,7.94)(53,7.87)(55,7.91)(57,7.84)(59,7.90)(61,7.83)(63,7.89)(65,7.73)(67,7.84)(69,7.76)(71,7.80)(73,7.74)(75,7.85)(77,7.82)(79,7.87)(81,7.80)(83,7.92)(85,7.69)(87,7.80)(89,7.72)(90,7.92)(92,7.75)(94,7.80)(96,7.70)(97,7.64)(99,7.75)(101,7.68)(103,7.72)(105,7.66)(107,7.70)(109,7.64)(110,7.77)(112,7.65)(114,7.68)(116,7.60)(118,7.64)(120,7.56)(122,7.63)(124,7.58)(126,7.65)(128,7.57)(130,7.60)(132,7.55)(134,7.62)(136,7.57)(138,7.63)(140,7.56)(142,7.62)(144,7.58)(145,7.67)(147,7.57)(149,7.62)(150,7.56)(152,7.69)(154,7.57)(156,7.52)(158,7.60)(160,7.55)(162,7.59)(164,7.52)(166,7.58)(168,7.53)(170,7.60)(172,7.66)(174,7.54)(176,7.56)(178,7.50)(180,7.55)(182,7.51)(184,7.54)(186,7.47)(188,7.53)(190,7.49)(192,7.52)(194,7.47)(196,7.51)(198,7.45)(200,7.50)(202,7.46)(204,7.52)(205,7.67)(207,7.50)(209,7.44)(210,7.41)(212,7.46)(214,7.42)(216,7.45)(218,7.41)(220,7.44)(222,7.38)(224,7.40)(226,7.33)(228,7.28)(230,7.34)(232,7.31)(234,7.38)(235,7.44)(237,7.35)(239,7.29)(240,7.38)(242,7.34)(244,7.42)(246,7.38)(248,7.42)(250,7.38)(252,7.43)(254,7.40)(256,7.46)(258,7.42)(260,7.48)(262,7.63)(264,7.46)(266,7.50)(268,7.44)(270,7.47)(272,7.42)(274,7.50)(275,7.59)(277,7.47)(279,7.51)(281,7.43)(283,7.41)(285,7.55)(287,7.52)(289,7.48)(290,7.45)(292,7.40)(294,7.33)(295,7.34)(297,7.41)(299,7.36)(300,7.35)};
\addlegendentry{Original}
\addplot[smline] coordinates {(7.3,7.890)(9.1,7.825)(10.6,7.874)(12.4,7.914)(14.2,7.919)(16.1,7.930)(17.2,7.958)(19,7.906)(20.1,7.898)(21.9,7.849)(23.7,7.825)(25.5,7.833)(27.4,7.79)(29.2,7.817)(31,7.849)(32.8,7.865)(34.7,7.882)(36.5,7.898)(37.6,7.914)(39.4,7.890)(41.2,7.857)(43.1,7.828)(44.9,7.833)(46.7,7.849)(48.5,7.874)(50.4,7.898)(52.2,7.893)(54,7.882)(55.8,7.870)(57.7,7.870)(59.5,7.870)(61.3,7.861)(63.1,7.865)(65,7.865)(66.8,7.801)(68.6,7.793)(70.4,7.768)(72.3,7.809)(74.1,7.825)(75.9,7.838)(77.7,7.844)(79.6,7.838)(81.4,7.841)(83.2,7.809)(85,7.780)(86.9,7.768)(88.7,7.736)(90.5,7.785)(92.3,7.773)(94.2,7.777)(96,7.747)(97.8,7.728)(99.6,7.72)(101.5,7.699)(103.3,7.675)(105.1,7.672)(106.9,7.655)(108.8,7.680)(110.6,7.672)(112.4,7.680)(114.2,7.651)(116.1,7.631)(117.9,7.607)(119.7,7.583)(121.5,7.607)(123.4,7.634)(125.2,7.639)(127,7.618)(128.8,7.583)(130.7,7.570)(132.5,7.596)(134.3,7.602)(136.1,7.599)(138,7.596)(139.8,7.602)(141.6,7.615)(143.4,7.628)(145.3,7.607)(147.1,7.596)(148.9,7.591)(150.7,7.599)(152.6,7.583)(154.4,7.579)(156.2,7.547)(158,7.566)(159.9,7.583)(161.7,7.570)(163.5,7.554)(165.3,7.542)(167.2,7.547)(169,7.547)(170.8,7.566)(172.6,7.573)(174.5,7.550)(176.3,7.534)(178.1,7.518)(179.9,7.534)(181.8,7.537)(183.6,7.521)(185.4,7.510)(187.2,7.502)(189.1,7.502)(190.9,7.499)(192.7,7.494)(194.5,7.499)(196.4,7.494)(198.2,7.486)(200,7.478)(201.8,7.478)(203.6,7.469)(205.5,7.510)(207.3,7.513)(209.1,7.486)(210.9,7.445)(212.8,7.437)(214.6,7.440)(216.4,7.437)(218.2,7.437)(220.1,7.413)(221.9,7.397)(223.7,7.373)(225.5,7.360)(227.4,7.356)(229.2,7.343)(231,7.332)(232.8,7.324)(234.7,7.360)(236.5,7.348)(238.3,7.356)(240.1,7.340)(242,7.364)(243.8,7.376)(245.6,7.381)(247.4,7.397)(249.3,7.408)(251.1,7.408)(252.9,7.413)(254.7,7.421)(256.6,7.429)(258.4,7.440)(260.2,7.453)(262,7.478)(263.9,7.505)(265.7,7.502)(267.5,7.499)(269.3,7.486)(271.2,7.445)(273,7.453)(274.8,7.494)(276.6,7.499)(278.5,7.489)(280.3,7.453)(282.1,7.413)(283.9,7.421)(285.8,7.445)(287.6,7.494)(288.7,7.502)(290.5,7.461)(292.3,7.413)(294.2,7.397)(296,7.397)(297.8,7.405)(300,7.381)};
\addlegendentry{Smoothed}
\end{axis}

% ===== c3 =====
\begin{axis}[panel, legc, at={(712pt,69pt)}, anchor=south west, width=300pt, height=212pt,
  xmin=-15, xmax=315, ymin=7.2743, ymax=7.7702, ytick={7.3,7.4,7.5,7.6,7.7},
  yticklabel style={/pgf/number format/.cd, fixed, fixed zerofill, precision=1}]
\addplot[orig] coordinates {(0,7.68)(1,7.50)(2,7.295)(3,7.38)(4,7.51)(5,7.43)(6,7.40)(7,7.46)(8,7.39)(9,7.48)(10,7.43)(11,7.47)(12,7.44)(13,7.54)(14,7.45)(15,7.53)(16,7.47)(17,7.50)(18,7.44)(19,7.55)(20,7.47)(21,7.75)(22,7.58)(23,7.62)(24,7.52)(25,7.60)(26,7.47)(27,7.57)(28,7.53)(30,7.55)(32,7.50)(34,7.57)(36,7.51)(38,7.60)(40,7.52)(41,7.61)(43,7.53)(45,7.58)(47,7.50)(49,7.59)(51,7.53)(53,7.60)(55,7.52)(57,7.58)(58,7.61)(60,7.52)(62,7.57)(64,7.49)(66,7.58)(68,7.51)(70,7.57)(72,7.50)(74,7.56)(76,7.52)(77,7.63)(79,7.53)(81,7.56)(83,7.50)(85,7.54)(87,7.48)(89,7.52)(91,7.47)(93,7.53)(95,7.49)(97,7.55)(99,7.52)(100,7.61)(102,7.53)(104,7.57)(106,7.50)(108,7.55)(110,7.49)(112,7.53)(114,7.46)(116,7.51)(118,7.45)(120,7.52)(122,7.47)(124,7.53)(126,7.49)(128,7.42)(130,7.47)(132,7.43)(134,7.50)(135,7.645)(137,7.48)(139,7.52)(141,7.46)(143,7.51)(145,7.44)(147,7.49)(149,7.45)(151,7.51)(153,7.47)(155,7.53)(157,7.48)(159,7.40)(160,7.375)(162,7.45)(164,7.50)(165,7.74)(167,7.52)(169,7.48)(171,7.55)(173,7.49)(175,7.52)(177,7.47)(179,7.50)(181,7.44)(183,7.47)(185,7.42)(186,7.39)(188,7.46)(190,7.43)(192,7.48)(194,7.44)(196,7.49)(198,7.45)(200,7.48)(202,7.43)(204,7.47)(206,7.42)(208,7.46)(210,7.43)(212,7.47)(213,7.52)(215,7.45)(217,7.48)(219,7.44)(221,7.49)(223,7.46)(225,7.53)(227,7.50)(228,7.70)(230,7.62)(232,7.72)(234,7.60)(236,7.55)(237,7.43)(239,7.52)(241,7.56)(243,7.70)(245,7.54)(247,7.50)(249,7.53)(251,7.49)(253,7.54)(255,7.50)(257,7.55)(259,7.51)(261,7.54)(263,7.48)(265,7.45)(267,7.50)(269,7.47)(271,7.51)(273,7.47)(275,7.52)(277,7.48)(279,7.51)(281,7.49)(283,7.52)(285,7.50)(287,7.53)(289,7.55)(290,7.61)(292,7.52)(294,7.56)(296,7.51)(298,7.59)(299,7.53)(300,7.55)};
\addlegendentry{Original}
\addplot[smline] coordinates {(6.6,7.4326)(8,7.4014)(9.9,7.4326)(11.7,7.4443)(13.5,7.4443)(15.4,7.4793)(17.2,7.4793)(19,7.4809)(20.9,7.4949)(22.7,7.53)(24.5,7.5456)(26.3,7.5534)(28.2,7.5651)(30,7.5394)(31.8,7.5222)(33.7,7.53)(35.5,7.5417)(37.3,7.5495)(39.2,7.5573)(41,7.5573)(42.8,7.5495)(44.6,7.5394)(46.5,7.5339)(48.3,7.5456)(50.1,7.555)(52,7.5651)(53.8,7.5612)(55.6,7.5573)(57.4,7.5534)(59.3,7.555)(61.1,7.5394)(62.9,7.5417)(64.8,7.5261)(66.6,7.5394)(68.4,7.5363)(70.3,7.5394)(72.1,7.5261)(73.9,7.5363)(75.7,7.5378)(77.6,7.5261)(79.4,7.5339)(81.2,7.5456)(83.1,7.5378)(84.9,7.5261)(86.7,7.5105)(88.5,7.4988)(90.4,7.5051)(92.2,7.5027)(94,7.5027)(95.9,7.5105)(97.7,7.5222)(99.5,7.53)(101.4,7.5394)(103.2,7.5495)(105,7.5417)(106.8,7.53)(108.7,7.5144)(110.5,7.5129)(112.3,7.5066)(114.2,7.5027)(116,7.491)(117.8,7.491)(119.6,7.4926)(121.5,7.4973)(123.3,7.5105)(125.1,7.5261)(127,7.5144)(128.8,7.491)(130.6,7.4754)(132.5,7.4536)(134.3,7.4793)(136.1,7.4949)(138,7.5066)(139.8,7.5105)(141.6,7.491)(143.4,7.4793)(145.3,7.4598)(147.1,7.4598)(148.9,7.4661)(150.7,7.4754)(152.6,7.4871)(154.4,7.4988)(156.2,7.5027)(158.1,7.4871)(159.9,7.4676)(161.7,7.4536)(163.6,7.4832)(165.4,7.5066)(167.2,7.5261)(169,7.5316)(170.9,7.4949)(172.7,7.4926)(174.5,7.4949)(176.4,7.4848)(178.2,7.4848)(180,7.4793)(181.9,7.4598)(183.7,7.4458)(185.5,7.452)(187.3,7.4637)(189.2,7.4661)(191,7.4715)(192.8,7.4661)(194.7,7.4598)(196.5,7.4661)(198.3,7.4715)(200.1,7.4739)(202,7.4661)(203.8,7.4614)(205.6,7.452)(207.5,7.4536)(209.3,7.4661)(211.1,7.4692)(213,7.4676)(214.8,7.4715)(216.6,7.4661)(218.4,7.4692)(220.3,7.4715)(222.1,7.477)(223.9,7.4832)(225.8,7.5144)(227.6,7.5534)(229.4,7.5924)(231.3,7.6236)(232.3,7.6275)(234.2,7.6002)(236,7.5651)(237.8,7.5363)(239.7,7.5222)(241.5,7.5339)(243.3,7.5573)(245.2,7.5534)(247,7.5394)(248.8,7.5261)(250.6,7.5105)(252.5,7.5144)(254.3,7.5222)(256.1,7.5339)(258,7.53)(259.8,7.5261)(261.6,7.5284)(263.4,7.5144)(265.3,7.5066)(267.1,7.5027)(268.9,7.4926)(270.8,7.4988)(272.6,7.4949)(274.4,7.4973)(276.3,7.5004)(278.1,7.4949)(279.9,7.491)(281.7,7.4988)(283.6,7.4949)(285.4,7.4973)(287.2,7.4926)(289.1,7.5004)(290.9,7.5144)(292.7,7.5339)(294.6,7.5378)(296.4,7.5456)(298.2,7.5417)(300,7.5339)};
\addlegendentry{Smoothed}
\end{axis}
\end{tikzpicture}
\end{document}
